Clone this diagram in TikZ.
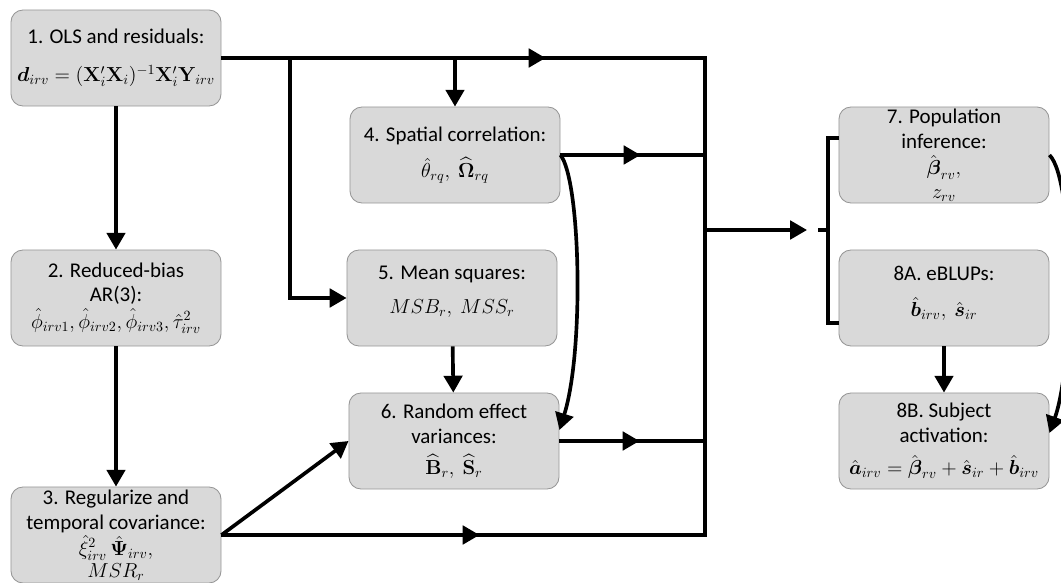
\documentclass[tikz,border=0pt]{standalone}
\usepackage[no-math]{fontspec}
\setmainfont{Carlito}
\usepackage{amsmath}
\usepackage{amssymb}
\usepackage{tikz}
\usetikzlibrary{positioning}
\usetikzlibrary{arrows.meta,decorations.markings}
\usetikzlibrary{calc}
\definecolor[named]{boxgray}{RGB}{217,217,217}
\definecolor[named]{edgegray}{RGB}{150,150,150}
\tikzset{midtip/.style={postaction={decorate,decoration={markings,
   mark=at position #1 with {\arrow{Triangle[length=4.2mm,width=4.6mm]}}}}}}

\begin{document}
\begin{tikzpicture}[x=0.025cm,y=-0.025cm]
   \useasboundingbox (0,0) rectangle (1061,583);
   \tikzstyle{stage}=[draw=edgegray,fill=boxgray,rounded corners=3mm,line width=0.6pt,
      minimum width=5.25cm,minimum height=2.4cm,align=center,inner sep=1pt,
      font=\fontsize{14.9}{17.7}\selectfont];
   \tikzstyle{wire}=[line width=2.6pt];
   \tikzstyle{conn}=[wire,-{Triangle[length=4.2mm,width=4.6mm]}];
   \node[stage] (ols) at (116,58) {1. OLS and residuals:\\[9pt]
      $\boldsymbol{d}_{irv}=(\mathbf{X}_i'\mathbf{X}_i)^{-1}\mathbf{X}_i'\mathbf{Y}_{irv}$};
   \node[stage] (reduced) at (116,298) {2. Reduced-bias\\AR(3):\\[1pt]
      $\hat\phi_{irv1},\hat\phi_{irv2},\hat\phi_{irv3},\hat\tau^2_{irv}$};
   \node[stage] (regul) at (116,535) {3. Regularize and\\temporal covariance:\\[1pt]
      $\hat\xi^2_{irv}\,\hat{\boldsymbol\Psi}_{irv},$\\[-2pt] $MSR_r$};
   \node[stage] (spatial) at (455,155) {4. Spatial correlation:\\[8pt]
      $\hat\theta_{rq},\ \widehat{\boldsymbol\Omega}_{rq}$};
   \node[stage] (meansq) at (452,298) {5. Mean squares:\\[6pt] $MSB_r,\ MSS_r$\\[-6pt]};
   \node[stage] (ranvar) at (454,441) {6. Random effect\\variances:\\[4pt]
      $\widehat{\mathbf B}_r,\ \widehat{\mathbf S}_r$};
   \node[stage] (popinf) at (944,155) {7. Population\\inference:\\[1pt]
      $\hat{\boldsymbol\beta}_{rv},$\\[-1pt] $z_{rv}$};
   \node[stage] (eblup) at (944,298) {8A. eBLUPs:\\[8pt]
      $\hat{\boldsymbol b}_{irv},\ \hat{\boldsymbol s}_{ir}$\\[-8pt]};
   \node[stage] (subj) at (944,441) {8B. Subject\\activation:\\[5pt]
      $\hat{\boldsymbol a}_{irv}=\hat{\boldsymbol\beta}_{rv}+\hat{\boldsymbol s}_{ir}+\hat{\boldsymbol b}_{irv}$};
   \coordinate (hub) at (705,230);
   \coordinate (hubtip) at (807,230);
   \coordinate (brstub) at (818,230);
   \coordinate (brx) at (828,230);
   \coordinate (split) at (290,58);
   \draw[wire,midtip=8.1cm] (ols.east) -- (ols.east -| hub) -- (hub);
   \draw[conn] (split) |- (meansq.west);
   \draw[conn] (ols.east -| spatial.north) -- (spatial.north);
   \draw[conn] (ols) -- (reduced);
   \draw[conn] (reduced) -- (regul);
   \draw[conn] (regul.east) -- (ranvar.west);
   \draw[wire,midtip=6.45cm] (regul.east) -- (regul.east -| hub) -- (hub);
   \foreach \s in {spatial,ranvar}
      \draw[wire,midtip=2cm] (\s.east) -- (\s.east -| hub);
   \draw[conn] (spatial.east) .. controls +(20,25) and +(25,-80) .. ([yshift=2.75mm]ranvar.east);
   \draw[conn] (meansq) -- (ranvar);
   \draw[conn] (hub) -- (hubtip);
   \draw[wire] (brstub) -- (brx);
   \draw[wire] ([yshift=4.25mm]popinf.west) -| (brx) |- ([yshift=-6.25mm]eblup.west);
   \draw[conn] (eblup) -- (subj);
   \draw[conn] (popinf.east) .. controls +(25,25) and +(25,-70) .. ([yshift=2mm]subj.east);
\end{tikzpicture}
\end{document}
